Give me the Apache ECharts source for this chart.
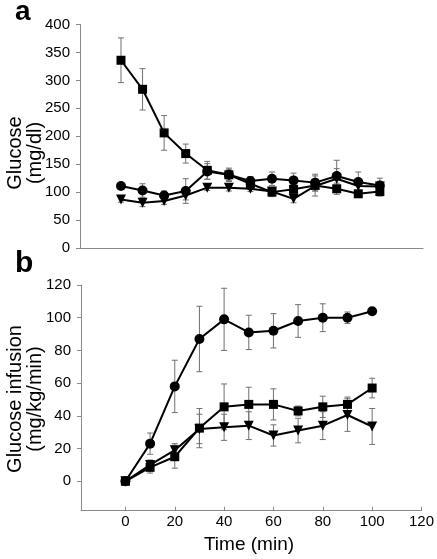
<!DOCTYPE html>
<html>
<head>
<meta charset="utf-8">
<script src="https://cdn.jsdelivr.net/npm/echarts@6/dist/echarts.min.js"></script>
<style>
html,body{margin:0;padding:0;background:#fff;}
#chart{width:437px;height:559px;}
</style>
</head>
<body>
<div id="chart"></div>
<script>
// Panel a: blood glucose (mg/dl)
var timeA = [0, 10, 20, 30, 40, 50, 60, 70, 80, 90, 100, 110, 120];
var glucoseSquare = [336, 284, 206, 169, 139, 131, 115, 100, 105, 112, 106, 97, 101];
var glucoseSquareErr = [40, 37, 31, 17, 16, 12, 10, 8, 8, 10, 10, 5, 8];
var glucoseCircle = [111, 103, 94, 102, 137, 131, 120, 124, 121, 117, 129, 118, 112];
var glucoseCircleErr = [4, 12, 8, 22, 14, 10, 8, 12, 13, 15, 28, 18, 13];
var glucoseTriangle = [87, 81, 84, 94, 108, 108, 106, 101, 88, 111, 124, 111, 110];
var glucoseTriangleErr = [5, 7, 6, 8, 5, 6, 5, 6, 7, 18, 18, 8, 8];

// Panel b: glucose infusion (mg/kg/min)
var timeB = [0, 10, 20, 30, 40, 50, 60, 70, 80, 90, 100];
var infCircle = [0, 23, 58, 87, 99, 91, 92, 98, 100, 100, 104];
var infCircleErr = [0, 6.5, 16, 20, 19, 10.5, 10.5, 10, 8.5, 3.5, 1];
var infSquare = [0, 8.5, 15, 32.5, 45.5, 47, 47, 43, 45.5, 47, 57];
var infSquareErr = [0, 3.5, 7, 12, 14, 10.5, 9.5, 3, 6.5, 4.5, 6];
var infTriangle = [0, 10, 19, 32, 33, 34, 28, 31, 34, 40.5, 33.5];
var infTriangleErr = [0, 3, 4, 9, 8, 8.5, 6.5, 7.5, 8.5, 10, 11];

// Tick labels
var ticksA_Y = [0, 50, 100, 150, 200, 250, 300, 350, 400];
var ticksB_X = [0, 20, 40, 60, 80, 100, 120];
var ticksB_Y = [0, 20, 40, 60, 80, 100, 120];

var FONT = '"Liberation Sans", Arial, sans-serif';
var AXIS_COLOR = '#8a8a8a';
var ERR_COLOR = '#707070';

function pairs(xs, ys) { return xs.map(function (x, i) { return [x, ys[i]]; }); }
function errData(xs, ys, es) {
  var out = [];
  xs.forEach(function (x, i) { if (es[i] > 0) out.push([x, ys[i] - es[i], ys[i] + es[i]]); });
  return out;
}
function errRender(params, api) {
  var x = api.value(0);
  var lo = api.coord([x, api.value(1)]);
  var hi = api.coord([x, api.value(2)]);
  var cap = 3;
  var st = { stroke: ERR_COLOR, lineWidth: 1 };
  return {
    type: 'group',
    children: [
      { type: 'line', shape: { x1: lo[0], y1: lo[1], x2: hi[0], y2: hi[1] }, style: st },
      { type: 'line', shape: { x1: hi[0] - cap, y1: hi[1], x2: hi[0] + cap, y2: hi[1] }, style: st },
      { type: 'line', shape: { x1: lo[0] - cap, y1: lo[1], x2: lo[0] + cap, y2: lo[1] }, style: st }
    ]
  };
}
function errSeries(idx, xs, ys, es) {
  return {
    type: 'custom', xAxisIndex: idx, yAxisIndex: idx, renderItem: errRender,
    data: errData(xs, ys, es), z: 1, silent: true, clip: false
  };
}
function lineSeries(idx, xs, ys, symbol, size, rotate) {
  return {
    type: 'line', xAxisIndex: idx, yAxisIndex: idx, data: pairs(xs, ys),
    symbol: symbol, symbolSize: size, symbolRotate: rotate || 0, showSymbol: true,
    lineStyle: { color: '#000', width: 2 }, itemStyle: { color: '#000' },
    z: 3, animation: false, clip: false
  };
}

var chart = echarts.init(document.getElementById('chart'), null, { renderer: 'canvas' });
chart.setOption({
  animation: false,
  backgroundColor: '#fff',
  textStyle: { fontFamily: FONT },
  grid: [
    { left: 80, top: 24.5, width: 343, height: 223.5 },
    { left: 81, top: 285, width: 342, height: 225.7 }
  ],
  xAxis: [
    {
      gridIndex: 0, type: 'value', min: -19, max: 140,
      axisLine: { show: true, onZero: false, lineStyle: { color: AXIS_COLOR, width: 1 } },
      axisTick: { show: false }, axisLabel: { show: false }, splitLine: { show: false }
    },
    {
      gridIndex: 1, type: 'value', min: -18, max: 120,
      axisLine: { show: true, onZero: false, lineStyle: { color: AXIS_COLOR, width: 1 } },
      axisTick: { show: true, inside: true, length: 4, customValues: ticksB_X, lineStyle: { color: AXIS_COLOR } },
      axisLabel: { show: true, customValues: ticksB_X, color: '#000', fontSize: 15, fontFamily: FONT, margin: 4 },
      splitLine: { show: false }
    }
  ],
  yAxis: [
    {
      gridIndex: 0, type: 'value', min: 0, max: 400, interval: 50,
      axisLine: { show: true, onZero: false, lineStyle: { color: AXIS_COLOR, width: 1 } },
      axisTick: { show: true, length: 4, lineStyle: { color: AXIS_COLOR } },
      axisLabel: { show: true, color: '#000', fontSize: 15, fontFamily: FONT, margin: 10 },
      splitLine: { show: false }
    },
    {
      gridIndex: 1, type: 'value', min: -18, max: 120,
      axisLine: { show: true, onZero: false, lineStyle: { color: AXIS_COLOR, width: 1 } },
      axisTick: { show: true, length: 4, customValues: ticksB_Y, lineStyle: { color: AXIS_COLOR } },
      axisLabel: { show: true, customValues: ticksB_Y, color: '#000', fontSize: 15, fontFamily: FONT, margin: 10 },
      splitLine: { show: false }
    }
  ],
  graphic: [
    { type: 'text', left: 15, top: -2, style: { text: 'a', font: 'bold 28px ' + FONT, fill: '#000' } },
    { type: 'text', left: 15, top: 249, style: { text: 'b', font: 'bold 30px ' + FONT, fill: '#000' } },
    { type: 'text', x: 25, y: 153, rotation: Math.PI / 2,
      style: { text: 'Glucose\n(mg/dl)', font: '20px ' + FONT, fill: '#000', align: 'center', verticalAlign: 'middle', lineHeight: 20 } },
    { type: 'text', x: 25, y: 399, rotation: Math.PI / 2,
      style: { text: 'Glucose infusion\n(mg/kg/min)', font: '20px ' + FONT, fill: '#000', align: 'center', verticalAlign: 'middle', lineHeight: 20 } },
    { type: 'text', x: 249, y: 545,
      style: { text: 'Time (min)', font: '19px ' + FONT, fill: '#000', align: 'center', verticalAlign: 'middle' } }
  ],
  series: [
    errSeries(0, timeA, glucoseCircle, glucoseCircleErr),
    errSeries(0, timeA, glucoseTriangle, glucoseTriangleErr),
    errSeries(0, timeA, glucoseSquare, glucoseSquareErr),
    lineSeries(0, timeA, glucoseCircle, 'circle', 10),
    lineSeries(0, timeA, glucoseTriangle, 'triangle', 10, 180),
    lineSeries(0, timeA, glucoseSquare, 'rect', 9),
    errSeries(1, timeB, infCircle, infCircleErr),
    errSeries(1, timeB, infTriangle, infTriangleErr),
    errSeries(1, timeB, infSquare, infSquareErr),
    lineSeries(1, timeB, infCircle, 'circle', 10),
    lineSeries(1, timeB, infTriangle, 'triangle', 10, 180),
    lineSeries(1, timeB, infSquare, 'rect', 9)
  ]
});
</script>
</body>
</html>
